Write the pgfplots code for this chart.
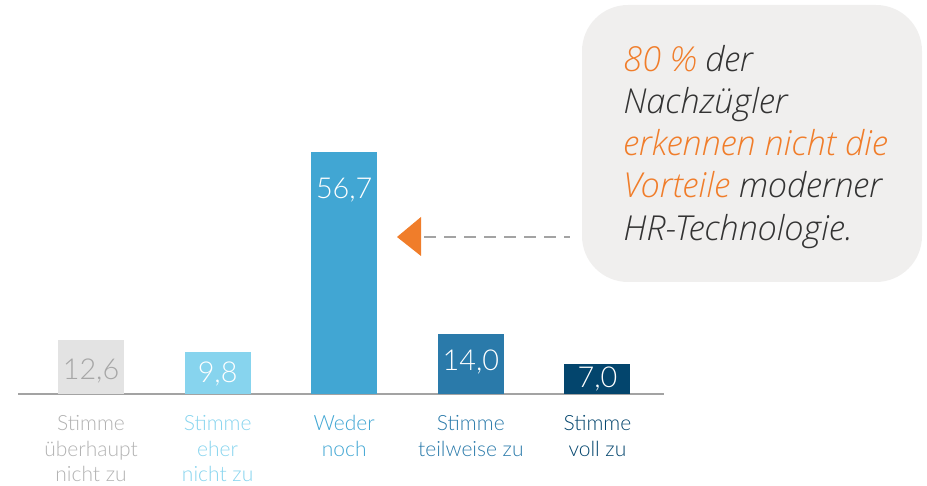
\documentclass[border=0pt]{standalone}
\usepackage{pgfplots}
\pgfplotsset{compat=1.18}
\usepackage{fontspec}
\newfontfamily\barfont{Lato Light}
\newfontfamily\callfont{Open Sans Light Italic}
\definecolor{cA}{HTML}{E3E3E3}
\definecolor{cAt}{HTML}{A6A6A6}
\definecolor{cAl}{HTML}{B2B2B2}
\definecolor{cB}{HTML}{87D4EE}
\definecolor{cC}{HTML}{41A6D3}
\definecolor{cD}{HTML}{2A7AAA}
\definecolor{cE}{HTML}{03456D}
\definecolor{axisgray}{HTML}{A3A3A3}
\definecolor{boxfill}{HTML}{F0EFEE}
\definecolor{orng}{HTML}{F07D2A}
\definecolor{darktxt}{HTML}{333333}
\newcommand\catlab[2]{\color{#1}\begin{tabular}[t]{@{}c@{}}#2\end{tabular}}
\newcommand\valfont{\barfont\fontsize{14.4pt}{17pt}\selectfont}
\begin{document}
\begin{tikzpicture}
\path[use as bounding box] (0,0) rectangle (463.5pt,243pt);
% callout box
\fill[boxfill, rounded corners=23pt] (291pt,102pt) rectangle (461pt,240.5pt);
\draw[axisgray, line width=1pt, dash pattern=on 6pt off 4pt] (212pt,124.5pt) -- (285pt,124.5pt);
\fill[orng] (198.5pt,124.5pt) -- (210.5pt,134.5pt) -- (210.5pt,115pt) -- cycle;
\begin{scope}[every node/.style={anchor=base west, inner sep=0pt, font=\callfont\fontsize{17.2pt}{21pt}\selectfont, text=darktxt}]
\node at (311.5pt,207pt) {\textcolor{orng}{80 \%} der};
\node at (311.5pt,186.25pt) {Nachzügler};
\node at (311.5pt,165pt) {\textcolor{orng}{erkennen nicht die}};
\node at (311.5pt,144pt) {\textcolor{orng}{Vorteile} moderner};
\node at (311.5pt,122.5pt) {HR-Technologie.};
\end{scope}
\begin{axis}[
  at={(9pt,46pt)}, anchor=south west,
  scale only axis, width=323pt, height=197pt,
  xmin=-0.577, xmax=4.526, ymin=0, ymax=92.3,
  axis x line*=bottom, axis y line=none,
  x axis line style={-, draw=axisgray, line width=1.25pt},
  xtick={0,1,2,3,4}, major tick length=0pt, ytick=\empty,
  xticklabels={
    {\catlab{cAl}{Stimme\\überhaupt\\nicht zu}},
    {\catlab{cB}{Stimme\\eher\\nicht zu}},
    {\catlab{cC}{Weder\\noch}},
    {\catlab{cD}{Stimme\\teilweise zu}},
    {\catlab{cE}{Stimme\\voll zu}}},
  xticklabel style={anchor=base, inner sep=0pt, yshift=-18.5pt, font=\barfont\fontsize{10.5pt}{12.75pt}\selectfont},
  clip=false,
]
\addplot[ybar, bar shift=0pt, bar width=33pt, fill=cA, draw=none] coordinates {(0,12.6)};
\addplot[ybar, bar shift=0pt, bar width=33pt, fill=cB, draw=none] coordinates {(1,9.8)};
\addplot[ybar, bar shift=0pt, bar width=33pt, fill=cC, draw=none] coordinates {(2,56.7)};
\addplot[ybar, bar shift=0pt, bar width=33pt, fill=cD, draw=none] coordinates {(3,14.0)};
\addplot[ybar, bar shift=0pt, bar width=33pt, fill=cE, draw=none] coordinates {(4,7.0)};
\addplot[draw=none, mark=none, nodes near coords, point meta=explicit symbolic,
  every node near coord/.append style={anchor=base, inner sep=0pt, text=cAt, font=\valfont}]
  coordinates {(0,3.5)[12,6]};
\addplot[draw=none, mark=none, nodes near coords, point meta=explicit symbolic,
  every node near coord/.append style={anchor=base, inner sep=0pt, text=white, font=\valfont}]
  coordinates {(1,2.65)[9,8] (2,45.9)[56,7] (3,5.4)[14,0] (4,1.5)[7,0]};
\end{axis}
\end{tikzpicture}
\end{document}
